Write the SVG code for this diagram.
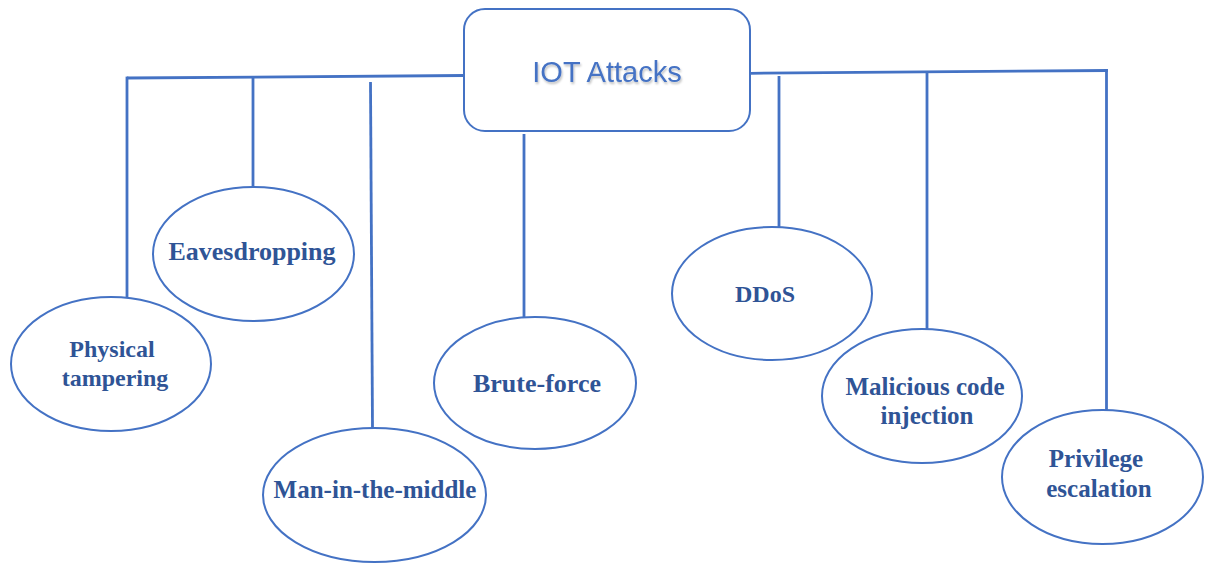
<svg xmlns="http://www.w3.org/2000/svg" width="1205" height="563" viewBox="0 0 1205 563">
  <defs>
    <filter id="soft-shadow" x="-10%" y="-20%" width="120%" height="150%">
      <feDropShadow dx="1" dy="2" stdDeviation="1.2" flood-color="#000000" flood-opacity="0.25"/>
    </filter>
  </defs>
  <style>
    .wire { stroke: #4472C4; stroke-width: 2.8; fill: none; stroke-linecap: butt; }
    .oval { fill: #FFFFFF; stroke: #4472C4; stroke-width: 2; }
    .root-box { fill: #FFFFFF; stroke: #4472C4; stroke-width: 2; }
    .root-label { font-family: "Liberation Sans", Arial, sans-serif; font-size: 29px; fill: #4472C4; text-anchor: middle; }
    .label { font-family: "Liberation Serif", "Times New Roman", serif; font-weight: bold; font-size: 26px; fill: #2F5496; text-anchor: middle; }
    .s24 { font-size: 24px; }
    .s25 { font-size: 25px; }
  </style>
  <rect width="1205" height="563" fill="#FFFFFF"/>

  <!-- connectors: two bus lines from the root box, with drops to each attack -->
  <g id="connectors">
    <line class="wire" x1="127" y1="78" x2="464" y2="75.5"/>
    <line class="wire" x1="127" y1="76.6" x2="127" y2="298"/>
    <line class="wire" x1="253" y1="77" x2="253" y2="188"/>
    <line class="wire" x1="370.5" y1="82" x2="372.5" y2="428"/>
    <line class="wire" x1="524" y1="134" x2="524" y2="317"/>
    <line class="wire" x1="750" y1="73.3" x2="1107.9" y2="70.5"/>
    <line class="wire" x1="779" y1="76" x2="779" y2="227"/>
    <line class="wire" x1="927" y1="72.5" x2="927" y2="329"/>
    <line class="wire" x1="1106.5" y1="69" x2="1106.5" y2="410"/>
  </g>

  <g id="root">
    <rect class="root-box" x="464" y="9" width="286" height="122" rx="21" ry="21"/>
    <text class="root-label" x="607" y="82" filter="url(#soft-shadow)">IOT Attacks</text>
  </g>

  <g id="eavesdropping">
    <ellipse class="oval" cx="253.5" cy="254" rx="100.5" ry="67"/>
    <text class="label" x="252" y="260">Eavesdropping</text>
  </g>

  <g id="physical-tampering">
    <ellipse class="oval" cx="111" cy="364" rx="100" ry="67"/>
    <text class="label s24" x="112" y="357">Physical</text>
    <text class="label s24" x="115" y="386">tampering</text>
  </g>

  <g id="man-in-the-middle">
    <ellipse class="oval" cx="374.5" cy="495" rx="111.5" ry="67"/>
    <text class="label s25" x="375" y="498">Man-in-the-middle</text>
  </g>

  <g id="brute-force">
    <ellipse class="oval" cx="535" cy="383" rx="101" ry="66"/>
    <text class="label" x="537" y="392">Brute-force</text>
  </g>

  <g id="ddos">
    <ellipse class="oval" cx="772" cy="293.5" rx="100" ry="66.5"/>
    <text class="label s24" x="765" y="302">DDoS</text>
  </g>

  <g id="malicious-code-injection">
    <ellipse class="oval" cx="922" cy="396" rx="100" ry="67"/>
    <text class="label s25" x="925" y="395">Malicious code</text>
    <text class="label s25" x="927" y="424">injection</text>
  </g>

  <g id="privilege-escalation">
    <ellipse class="oval" cx="1102.5" cy="477" rx="100.5" ry="67"/>
    <text class="label s25" x="1096" y="467">Privilege</text>
    <text class="label s25" x="1099" y="497">escalation</text>
  </g>
</svg>
